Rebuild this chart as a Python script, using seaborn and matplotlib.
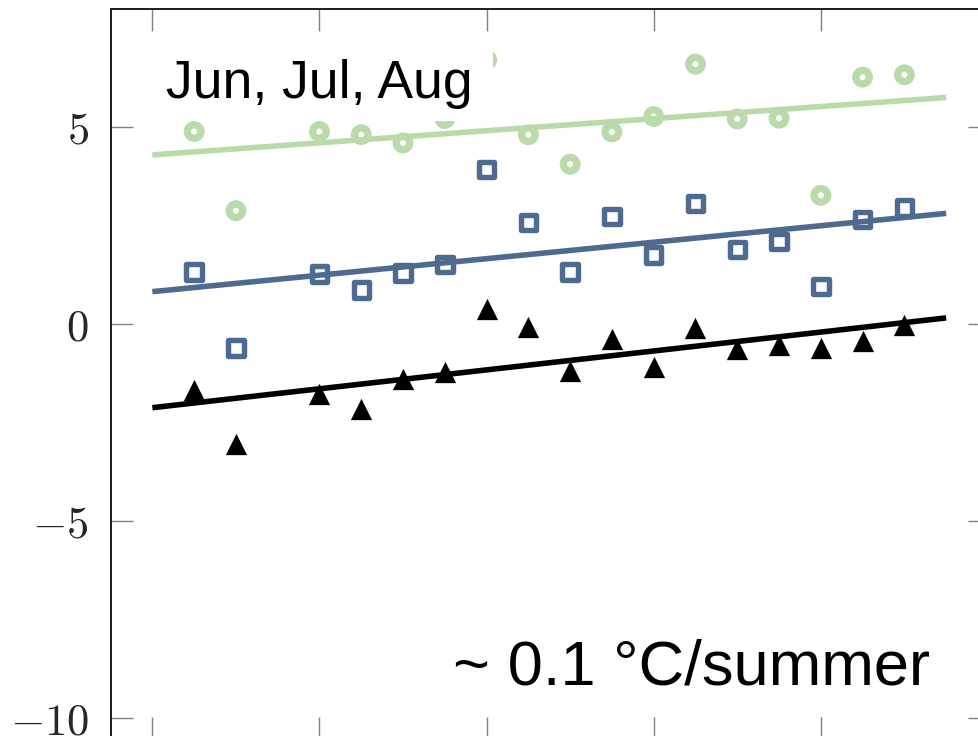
import numpy as np
import pandas as pd
import matplotlib
matplotlib.use("Agg")
import matplotlib.pyplot as plt
from matplotlib.patches import Rectangle
import seaborn as sns

# ---- data ----
summer = [1, 2, 4, 5, 6, 7, 8, 9, 10, 11, 12, 13, 14, 15, 16, 17, 18]
upper = [4.89, 2.88, 4.89, 4.81, 4.60, 5.22, 6.71, 4.81, 4.06, 4.88,
         5.27, 6.60, 5.21, 5.23, 3.27, 6.27, 6.33]
middle = [1.32, -0.61, 1.27, 0.87, 1.30, 1.52, 3.92, 2.58, 1.32, 2.73,
          1.76, 3.07, 1.89, 2.10, 0.96, 2.65, 2.95]
lower = [-1.67, -3.04, -1.78, -2.15, -1.40, -1.22, 0.38, -0.06, -1.20, -0.37,
         -1.08, -0.10, -0.63, -0.52, -0.61, -0.42, -0.02]
fit_range = [0, 19]
x_ticks = [0, 4, 8, 12, 16, 20]
y_ticks = [-10, -5, 0, 5]
y_tick_labels = [r"$-10$", r"$-5$", r"$0$", r"$5$"]
season_label = "Jun, Jul, Aug"
trend_label = "~ 0.1 °C/summer"

GREEN = "#badba9"
BLUE = "#4f6a90"
BLACK = "#000000"

sns.set_theme(style="white")
plt.rcParams["font.family"] = ["Liberation Sans", "DejaVu Sans"]
plt.rcParams["mathtext.fontset"] = "cm"

fig = plt.figure(figsize=(9.79, 7.36), dpi=100)
ax = fig.add_axes([111 / 979, -3 / 736, 879 / 979, 730 / 736])

df = pd.DataFrame({"summer": summer, "upper": upper, "middle": middle, "lower": lower})

# regression lines span fit_range (regplot uses current xlim when truncate=False)
ax.set_xlim(*fit_range)
for col, c in [("upper", GREEN), ("middle", BLUE), ("lower", BLACK)]:
    sns.regplot(data=df, x="summer", y=col, ax=ax, scatter=False, ci=None,
                truncate=False, color=c, line_kws={"lw": 4.0, "zorder": 2,
                                                   "solid_capstyle": "butt"})

sns.scatterplot(data=df, x="summer", y="upper", ax=ax, marker="o", s=95,
                facecolors="none", edgecolor=GREEN, linewidth=5.3, zorder=2.5)
sns.scatterplot(data=df, x="summer", y="middle", ax=ax, marker="s", s=123,
                facecolors="none", edgecolor=BLUE, linewidth=3.9, zorder=2.5)
sns.scatterplot(data=df, x="summer", y="lower", ax=ax, marker="^", s=235,
                color=BLACK, edgecolor=BLACK, linewidth=0, zorder=2.5)

ax.set_xlim(-0.99, 20.05)
ax.set_ylim(-10.53, 8.0)
ax.set_xlabel("")
ax.set_ylabel("")
ax.set_xticks(x_ticks)
ax.set_xticklabels([])
ax.set_yticks(y_ticks)
ax.set_yticklabels(y_tick_labels)
ax.tick_params(axis="both", which="major", direction="in", length=16,
               width=1.0, color="#7f7f7f", top=True, right=True,
               bottom=True, left=True, labelsize=32, pad=16)
for sp in ax.spines.values():
    sp.set_visible(True)
    sp.set_color("#1a1a1a")
    sp.set_linewidth(1.4)

# white label box behind the season label
ax.add_patch(Rectangle((0.05, 5.16), 8.1, 2.2, transform=ax.transData,
                       fc="white", ec="none", zorder=4))
ax.text(0.33, 5.74, season_label, fontsize=38.5, ha="left", va="baseline",
        color="black", zorder=5)
ax.text(18.62, -9.14, trend_label, fontsize=45.5, ha="right", va="baseline",
        color="black", zorder=5)

fig.savefig("out.png", dpi=100)
